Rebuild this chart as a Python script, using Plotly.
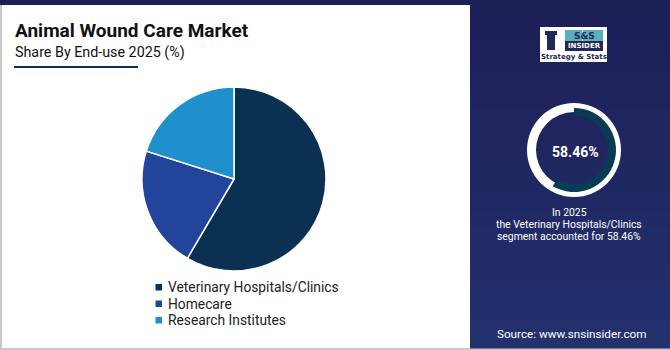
import plotly.graph_objects as go

W, H = 670, 350

categories = ["Veterinary Hospitals/Clinics", "Homecare", "Research Institutes"]
shares = [58.46, 21.44, 20.10]
colors = ["#0b3152", "#22449b", "#1f8fcd"]

highlight_value = 58.46
title = "Animal Wound Care Market"
subtitle = "Share By End-use 2025 (%)"
note_lines = ["In 2025", "the Veterinary Hospitals/Clinics", "segment accounted for %.2f%%" % highlight_value]
source = "Source: www.snsinsider.com"


def px(x):
    return x / W


def py(y):
    return 1 - y / H


fig = go.Figure()

# main pie
cx, cy, r = 234, 179, 92
fig.add_trace(go.Pie(
    labels=categories, values=shares, sort=False, direction="clockwise", rotation=0,
    marker=dict(colors=colors, line=dict(color="white", width=1.5)),
    textinfo="none", hoverinfo="label+percent",
    domain=dict(x=[px(cx - r), px(cx + r)], y=[py(cy + r), py(cy - r)]),
    showlegend=False,
))

# highlight donut (white ring)
dcx, dcy, dr = 574, 150, 47
fig.add_trace(go.Pie(
    values=[100], hole=38 / 47, sort=False, marker=dict(colors=["white"]),
    textinfo="none", hoverinfo="skip", showlegend=False,
    domain=dict(x=[px(dcx - dr), px(dcx + dr)], y=[py(dcy + dr), py(dcy - dr)]),
))
dr2 = 42
fig.add_trace(go.Pie(
    values=[highlight_value, 100 - highlight_value], hole=34 / 42, sort=False,
    direction="clockwise", rotation=0,
    marker=dict(colors=["#0b3a55", "rgba(0,0,0,0)"]),
    textinfo="none", hoverinfo="skip", showlegend=False,
    domain=dict(x=[px(dcx - dr2), px(dcx + dr2)], y=[py(dcy + dr2), py(dcy - dr2)]),
))

shapes = []
# white card
shapes.append(dict(type="rect", xref="paper", yref="paper", x0=px(2), x1=px(470), y0=py(348), y1=py(5),
                   fillcolor="white", line=dict(width=0), layer="below"))
# left / bottom grey edges
shapes.append(dict(type="rect", xref="paper", yref="paper", x0=0, x1=px(2), y0=py(350), y1=py(5),
                   fillcolor="#c8c8c8", line=dict(width=0), layer="below"))
shapes.append(dict(type="rect", xref="paper", yref="paper", x0=0, x1=1, y0=py(350), y1=py(348),
                   fillcolor="#c8c8c8", line=dict(width=0), layer="below"))
# right panel gradient bands
n = 20
top_c = (0x1d, 0x1f, 0x57)
bot_c = (0x23, 0x31, 0x6c)
for i in range(n):
    t = i / (n - 1)
    c = tuple(int(round(a + (b - a) * t)) for a, b in zip(top_c, bot_c))
    y0 = 5 + (343 * i / n)
    y1 = 5 + (343 * (i + 1) / n)
    shapes.append(dict(type="rect", xref="paper", yref="paper", x0=px(470), x1=1, y0=py(y1 + 0.5), y1=py(y0),
                       fillcolor="rgb(%d,%d,%d)" % c, line=dict(width=0), layer="below"))
# subtitle underline
shapes.append(dict(type="line", xref="paper", yref="paper", x0=px(14), x1=px(138), y0=py(67), y1=py(67),
                   line=dict(color="#0b3152", width=2)))
# logo
shapes.append(dict(type="rect", xref="paper", yref="paper", x0=px(540), x1=px(607), y0=py(62), y1=py(27),
                   fillcolor="white", line=dict(width=0)))
shapes.append(dict(type="rect", xref="paper", yref="paper", x0=px(565), x1=px(582), y0=py(41), y1=py(30),
                   fillcolor="#5aaec0", line=dict(width=0)))
shapes.append(dict(type="rect", xref="paper", yref="paper", x0=px(583), x1=px(603), y0=py(41), y1=py(30),
                   fillcolor="#5aaec0", line=dict(width=0)))
shapes.append(dict(type="rect", xref="paper", yref="paper", x0=px(565), x1=px(603), y0=py(51), y1=py(41),
                   fillcolor="#1d2b55", line=dict(width=0)))
shapes.append(dict(type="rect", xref="paper", yref="paper", x0=px(547), x1=px(555), y0=py(50), y1=py(33),
                   fillcolor="#1d2b55", line=dict(width=0)))
shapes.append(dict(type="rect", xref="paper", yref="paper", x0=px(545), x1=px(557), y0=py(35), y1=py(31),
                   fillcolor="#1d2b55", line=dict(width=0)))

ann = []
ann.append(dict(text="<b>" + title + "</b>", x=px(13), y=py(30), xref="paper", yref="paper",
                xanchor="left", yanchor="middle", showarrow=False,
                font=dict(family="Roboto", size=19, color="#111111")))
ann.append(dict(text=subtitle, x=px(13), y=py(52), xref="paper", yref="paper",
                xanchor="left", yanchor="middle", showarrow=False,
                font=dict(family="Roboto", size=14.3, color="#111111")))

# legend (built from categories / colors)
leg_y = [287, 303.5, 320]
for name, col, ly in zip(categories, colors, leg_y):
    shapes.append(dict(type="rect", xref="paper", yref="paper", x0=px(155.5), x1=px(162), y0=py(ly + 3.5),
                       y1=py(ly - 3), fillcolor=col, line=dict(width=0)))
    ann.append(dict(text=name, x=px(166), y=py(ly), xref="paper", yref="paper",
                    xanchor="left", yanchor="middle", showarrow=False,
                    font=dict(family="Roboto", size=13.8, color="#222222")))

ann.append(dict(text="<b>%.2f%%</b>" % highlight_value, x=px(dcx + 1), y=py(dcy + 2), xref="paper", yref="paper",
                xanchor="center", yanchor="middle", showarrow=False,
                font=dict(family="Roboto", size=14, color="white")))
for line, ly in zip(note_lines, [212, 224, 236]):
    ann.append(dict(text=line, x=px(569), y=py(ly), xref="paper", yref="paper",
                    xanchor="center", yanchor="middle", showarrow=False,
                    font=dict(family="Roboto", size=10.4, color="white")))
ann.append(dict(text=source, x=px(495), y=py(334), xref="paper", yref="paper",
                xanchor="left", yanchor="middle", showarrow=False,
                font=dict(family="Roboto", size=11.7, color="white")))
# logo texts
ann.append(dict(text="<b>S&amp;S</b>", x=px(584), y=py(35.5), xref="paper", yref="paper",
                xanchor="center", yanchor="middle", showarrow=False,
                font=dict(family="DejaVu Sans", size=9, color="#1d2b55")))
ann.append(dict(text="<b>INSIDER</b>", x=px(584), y=py(46), xref="paper", yref="paper",
                xanchor="center", yanchor="middle", showarrow=False,
                font=dict(family="DejaVu Sans", size=7, color="white")))
ann.append(dict(text="<b>Strategy &amp; Stats</b>", x=px(573.5), y=py(56.5), xref="paper", yref="paper",
                xanchor="center", yanchor="middle", showarrow=False,
                font=dict(family="DejaVu Sans", size=7, color="#1d2b55")))

fig.update_layout(
    width=W, height=H, margin=dict(l=0, r=0, t=0, b=0),
    paper_bgcolor="#1d1f57", plot_bgcolor="white",
    shapes=shapes, annotations=ann, showlegend=False,
)

fig.write_html("out.html")
